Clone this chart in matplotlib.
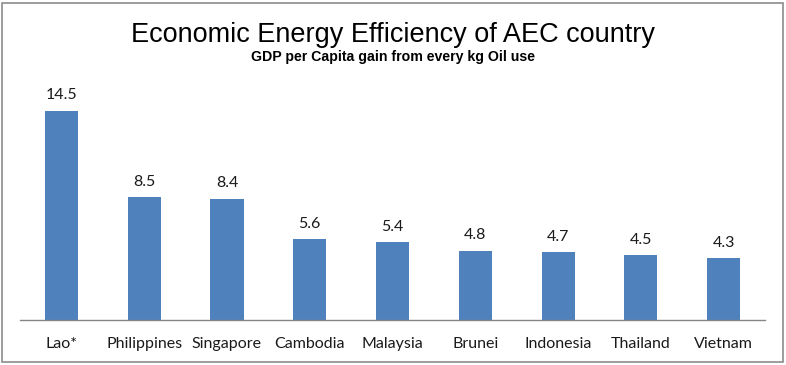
import matplotlib
matplotlib.use("Agg")
import matplotlib.pyplot as plt
from matplotlib.patches import Rectangle

countries = ["Lao*", "Philippines", "Singapore", "Cambodia", "Malaysia",
             "Brunei", "Indonesia", "Thailand", "Vietnam"]
values = [14.5, 8.5, 8.4, 5.6, 5.4, 4.8, 4.7, 4.5, 4.3]
value_labels = ["14.5", "8.5", "8.4", "5.6", "5.4", "4.8", "4.7", "4.5", "4.3"]

W, H = 786, 365
fig = plt.figure(figsize=(W / 100, H / 100), dpi=100)
fig.patch.set_facecolor("white")

# outer border
fig.add_artist(Rectangle((2 / W, 3 / H), 781 / W, 359 / H, transform=fig.transFigure,
                         fill=False, edgecolor="#8c8c8c", linewidth=1.2))

ax_left, ax_right = 20 / W, 765 / W
ax_bottom = (H - 320) / H
ax_top = (H - 89) / H
ax = fig.add_axes([ax_left, ax_bottom, ax_right - ax_left, ax_top - ax_bottom])

x = list(range(len(countries)))
ax.bar(x, values, width=0.4, color="#4F81BD")
ax.set_xlim(-0.5, len(countries) - 0.5)
ax.set_ylim(0, 16)

for xi, v, lab in zip(x, values, value_labels):
    ax.annotate(lab, (xi, v), xytext=(0, 6), textcoords="offset points",
                ha="center", va="bottom", fontsize=11.5, family="Lato", color="#1a1a1a")

for s in ["top", "right", "left"]:
    ax.spines[s].set_visible(False)
ax.spines["bottom"].set_color("#868686")
ax.spines["bottom"].set_linewidth(1.0)
ax.set_yticks([])
ax.set_xticks(x)
ax.set_xticklabels(countries, fontsize=11.5, family="Lato", color="#1a1a1a")
ax.tick_params(axis="x", length=0, pad=12)

fig.text(0.5, 1 - 35 / H, "Economic Energy Efficiency of AEC country",
         ha="center", va="center", fontsize=19.5, family="Liberation Sans", color="black")
fig.text(0.5, 1 - 57 / H, "GDP per Capita gain from every kg Oil use",
         ha="center", va="center", fontsize=10.2, fontweight="bold",
         family="Liberation Sans", color="black")

fig.savefig("out.png", dpi=100, facecolor="white")
